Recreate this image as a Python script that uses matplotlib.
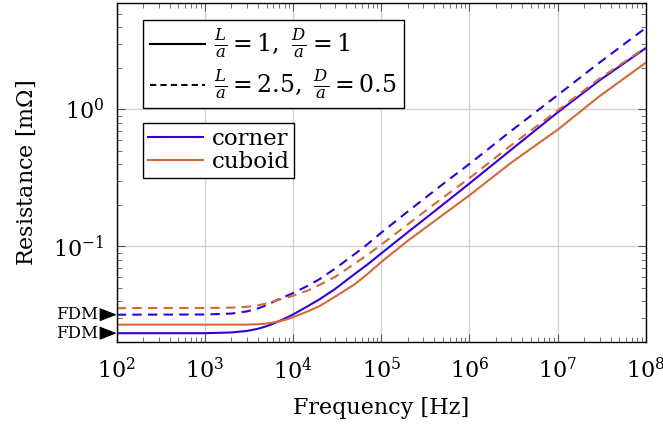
import matplotlib
matplotlib.use("Agg")
import matplotlib.pyplot as plt
from matplotlib.lines import Line2D
from matplotlib.ticker import LogLocator, NullFormatter

# ---- data ----
freq = [1e2, 1e3, 2e3, 3e3, 4e3, 5e3, 6e3, 7e3, 8.5e3, 1e4, 1.5e4, 2e4, 3e4,
        5e4, 7e4, 1e5, 2e5, 5e5, 1e6, 3e6, 1e7, 3e7, 1e8]
corner_1 = [0.0233, 0.0233, 0.0236, 0.0242, 0.0251, 0.0262, 0.0274, 0.0286,
            0.0303, 0.0319, 0.0370, 0.0412, 0.049, 0.063, 0.074, 0.089, 0.127,
            0.202, 0.288, 0.51, 0.95, 1.63, 2.8]
cuboid_1 = [0.0269, 0.0269, 0.0269, 0.0269, 0.0271, 0.0274, 0.0279, 0.0285,
            0.0294, 0.0305, 0.0338, 0.0368, 0.0430, 0.053, 0.063, 0.077, 0.110,
            0.170, 0.236, 0.41, 0.71, 1.25, 2.19]
corner_2 = [0.0318, 0.0319, 0.0324, 0.0336, 0.0353, 0.0373, 0.0395, 0.0414,
            0.0437, 0.0457, 0.052, 0.0578, 0.069, 0.088, 0.104, 0.126, 0.180,
            0.285, 0.40, 0.70, 1.27, 2.2, 3.93]
cuboid_2 = [0.0355, 0.0356, 0.0358, 0.0363, 0.0372, 0.0384, 0.0397, 0.0410,
            0.0424, 0.0437, 0.048, 0.0525, 0.060, 0.075, 0.087, 0.103, 0.145,
            0.227, 0.315, 0.55, 0.98, 1.68, 2.83]
fdm_values = [0.0318, 0.0233]

blue = '#3300dd'
orange = '#d4693a'

plt.rcParams['font.family'] = ['DejaVu Serif']
plt.rcParams['mathtext.fontset'] = 'dejavuserif'

fig = plt.figure(figsize=(6.63, 4.25), dpi=100)
ax = fig.add_axes([0.176, 0.1946, 0.798, 0.799])

ax.plot(freq, corner_1, color=blue, lw=1.5, ls='-')
ax.plot(freq, cuboid_1, color=orange, lw=1.5, ls='-')
ax.plot(freq, corner_2, color=blue, lw=1.5, ls=(0, (4.5, 3)))
ax.plot(freq, cuboid_2, color=orange, lw=1.5, ls=(0, (4.5, 3)))

ax.set_xscale('log')
ax.set_yscale('log')
ax.set_xlim(1e2, 1e8)
ax.set_ylim(0.02, 6.0)

ax.xaxis.set_major_locator(LogLocator(base=10, numticks=20))
ax.xaxis.set_minor_locator(LogLocator(base=10, subs=range(2, 10), numticks=20))
ax.yaxis.set_major_locator(LogLocator(base=10, numticks=20))
ax.yaxis.set_minor_locator(LogLocator(base=10, subs=range(2, 10), numticks=20))
ax.xaxis.set_minor_formatter(NullFormatter())
ax.yaxis.set_minor_formatter(NullFormatter())

ax.grid(True, which='major', color='#d3d3d3', lw=1.0)
ax.set_axisbelow(True)
ax.tick_params(which='both', direction='in', top=True, right=True,
               color='#555555', labelsize=16)
ax.tick_params(axis='x', which='major', length=6, width=0.8, pad=11)
ax.tick_params(axis='y', which='major', length=6, width=0.8, pad=9)
ax.tick_params(which='minor', length=3.5, width=0.6)
for s in ax.spines.values():
    s.set_linewidth(1.0)

ax.set_xlabel('Frequency [Hz]', fontsize=16, labelpad=9)
ax.set_ylabel(r'Resistance [m$\mathit{\Omega}$]', fontsize=16, labelpad=11)

# legends
h1 = [Line2D([], [], color='k', lw=1.5, ls='-'),
      Line2D([], [], color='k', lw=1.5, ls=(0, (3, 2)))]
l1 = [r'$\frac{L}{a} = 1,\ \frac{D}{a} = 1$',
      r'$\frac{L}{a} = 2.5,\ \frac{D}{a} = 0.5$']
leg1 = ax.legend(h1, l1, loc='upper left', bbox_to_anchor=(0.05, 0.95),
                 fontsize=17, frameon=True, fancybox=False, framealpha=1,
                 edgecolor='k', borderaxespad=0, handlelength=2.3,
                 handletextpad=0.4, labelspacing=0.35, borderpad=0.3)
leg1.get_frame().set_linewidth(1.0)
ax.add_artist(leg1)

h2 = [Line2D([], [], color=blue, lw=1.5), Line2D([], [], color=orange, lw=1.5)]
l2 = ['corner', 'cuboid']
leg2 = ax.legend(h2, l2, loc='upper left', bbox_to_anchor=(0.05, 0.645),
                 fontsize=16.5, frameon=True, fancybox=False, framealpha=1,
                 edgecolor='k', borderaxespad=0, handlelength=2.4,
                 handletextpad=0.4, labelspacing=0.05, borderpad=0.2)
leg2.get_frame().set_linewidth(1.0)

# FDM arrows
for v in fdm_values:
    ax.annotate('FDM', xy=(0, v), xycoords=('axes fraction', 'data'),
                xytext=(-13, 0), textcoords='offset points',
                ha='right', va='center', fontsize=12,
                arrowprops=dict(arrowstyle='-|>,head_length=0.9,head_width=0.35',
                                color='k', lw=0.8, shrinkA=1, shrinkB=0),
                annotation_clip=False)

fig.savefig('out.png', dpi=100)
